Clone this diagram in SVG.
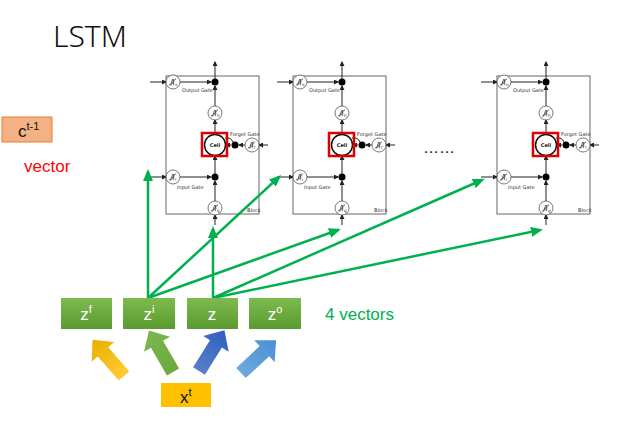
<svg xmlns="http://www.w3.org/2000/svg" width="632" height="429" viewBox="0 0 632 429">
<style>
.ln{stroke:#222;stroke-width:1;fill:none}
.gc{fill:#fff;stroke:#555;stroke-width:0.8}
.lb{font-family:"DejaVu Sans",sans-serif;font-size:5px;fill:#333}
.sub{font-family:"DejaVu Sans",sans-serif;font-size:4px;fill:#333}
.gr{stroke:#00B050;stroke-width:2.5;fill:none;marker-end:url(#ga)}
.bx{fill:url(#gg)}
.bt{font-family:"Liberation Sans",sans-serif;font-size:17px;fill:#fff;text-anchor:middle}
</style>
<defs>
<marker id="ba" markerWidth="5" markerHeight="5" refX="4" refY="2.5" orient="auto" markerUnits="userSpaceOnUse"><path d="M0,0L5,2.5L0,5z" fill="#222"/></marker>
<marker id="ga" markerWidth="12" markerHeight="10" refX="9" refY="5" orient="auto" markerUnits="userSpaceOnUse"><path d="M0,0L12,5L0,10z" fill="#00B050"/></marker>
<linearGradient id="gg" x1="0" y1="0" x2="0" y2="1"><stop offset="0" stop-color="#7DBB4F"/><stop offset="1" stop-color="#5B9A30"/></linearGradient>
<linearGradient id="gy" x1="0" y1="0" x2="1" y2="0"><stop offset="0" stop-color="#FFCC33"/><stop offset="1" stop-color="#E8B000"/></linearGradient>
<linearGradient id="gn" x1="0" y1="0" x2="1" y2="0"><stop offset="0" stop-color="#6AAA3F"/><stop offset="1" stop-color="#7BB84E"/></linearGradient>
<linearGradient id="gb" x1="0" y1="0" x2="1" y2="0"><stop offset="0" stop-color="#5A7FC8"/><stop offset="1" stop-color="#2F5FC0"/></linearGradient>
<linearGradient id="gl" x1="0" y1="0" x2="1" y2="0"><stop offset="0" stop-color="#6FA8DC"/><stop offset="1" stop-color="#4A8FD6"/></linearGradient>
<path id="sg" d="M-4,3 C-1,3 -1,-3 0,-3 M0,-3 C1,-3 1,3 0,3 M-3,3 C0,3 0,-3 3,-3" fill="none" stroke="#333" stroke-width="0.8"/>
<polygon id="fa" points="0,-7 32,-7 32,-15 48,0 32,15 32,7 0,7"/>
<g id="blk">
<rect x="166" y="76" width="93" height="138" fill="#fff" stroke="#666" stroke-width="1"/>
<path class="ln" d="M215,225V215" marker-end="url(#ba)"/>
<path class="ln" d="M215,201V181" marker-end="url(#ba)"/>
<path class="ln" d="M215,177V156" marker-end="url(#ba)"/>
<path class="ln" d="M215,134V120" marker-end="url(#ba)"/>
<path class="ln" d="M215,106V86" marker-end="url(#ba)"/>
<path class="ln" d="M215,82V62" marker-end="url(#ba)"/>
<path class="ln" d="M150,177H166" marker-end="url(#ba)"/>
<path class="ln" d="M180,177H211" marker-end="url(#ba)"/>
<path class="ln" d="M150,82H166" marker-end="url(#ba)"/>
<path class="ln" d="M180,82H211" marker-end="url(#ba)"/>
<path class="ln" d="M268,145H259" marker-end="url(#ba)"/>
<path class="ln" d="M245,145H239" marker-end="url(#ba)"/>
<path class="ln" d="M231,145H226" marker-end="url(#ba)"/>
<path class="ln" d="M233,142Q231,137 225,138"/>
<circle cx="215" cy="82" r="3.5" fill="#000"/>
<circle cx="215" cy="177" r="3.5" fill="#000"/>
<circle cx="235" cy="145" r="3.5" fill="#000"/>
<circle cx="173" cy="82" r="7" class="gc"/><use href="#sg" x="173" y="82"/><text class="sub" x="175" y="86">o</text>
<circle cx="173" cy="177" r="7" class="gc"/><use href="#sg" x="173" y="177"/><text class="sub" x="175" y="181">i</text>
<circle cx="215" cy="113" r="7" class="gc"/><use href="#sg" x="215" y="113"/><text class="sub" x="217" y="117">h</text>
<circle cx="215" cy="208" r="7" class="gc"/><use href="#sg" x="215" y="208"/><text class="sub" x="217" y="212">g</text>
<circle cx="252" cy="145" r="7" class="gc"/><use href="#sg" x="252" y="145"/><text class="sub" x="254" y="149">f</text>
<circle cx="215" cy="145" r="10.5" fill="#fff" stroke="#111" stroke-width="1.5"/>
<text x="215" y="147" font-family="DejaVu Sans,sans-serif" font-size="5" font-weight="bold" text-anchor="middle" fill="#222">Cell</text>
<rect x="202" y="133" width="25" height="23" fill="none" stroke="#E00000" stroke-width="2.5"/>
<text class="lb" x="182" y="92">Output Gate</text>
<text class="lb" x="230" y="136">Forget Gate</text>
<text class="lb" x="177" y="189">Input Gate</text>
<text class="lb" x="247" y="212">Block</text>
</g>
</defs>
<text x="53" y="47" font-family="Noto Sans,sans-serif" font-size="30" font-weight="300" fill="#111">LSTM</text>
<g id="ct"><rect x="2" y="117" width="50" height="25" fill="#F4B183" stroke="#ED7D31" stroke-width="1"/>
<text x="18" y="137" font-family="Liberation Sans,sans-serif" font-size="17" fill="#111">c<tspan font-size="11" dy="-7">t-1</tspan></text></g>
<text x="24" y="172" font-family="Liberation Sans,sans-serif" font-size="17" fill="#F00">vector</text>
<g id="block1"><use href="#blk"/></g>
<g id="block2"><use href="#blk" transform="translate(127,0)"/></g>
<g id="block3"><use href="#blk" transform="translate(331,0)"/></g>
<text x="423" y="153" font-family="Liberation Sans,sans-serif" font-size="16" fill="#111">……</text>
<g id="connectors">
<path class="gr" d="M148,298V172"/>
<path class="gr" d="M148,298L279,177"/>
<path class="gr" d="M148,298L338,230"/>
<path class="gr" d="M213,298V229"/>
<path class="gr" d="M213,298L482,180"/>
<path class="gr" d="M213,298L540,230"/>
</g>
<g id="zf"><rect class="bx" x="61" y="298" width="51" height="31"/><text class="bt" x="86" y="320">z<tspan font-size="11" dy="-7">f</tspan></text></g>
<g id="zi"><rect class="bx" x="123" y="298" width="52" height="31"/><text class="bt" x="149" y="320">z<tspan font-size="11" dy="-7">i</tspan></text></g>
<g id="z"><rect class="bx" x="187" y="298" width="51" height="31"/><text class="bt" x="212" y="320">z</text></g>
<g id="zo"><rect class="bx" x="249" y="298" width="52" height="31"/><text class="bt" x="275" y="320">z<tspan font-size="11" dy="-7">o</tspan></text></g>
<text x="325" y="320" font-family="Liberation Sans,sans-serif" font-size="17" fill="#00B050">4 vectors</text>
<use href="#fa" fill="url(#gy)" transform="translate(124,376) rotate(-131)"/>
<use href="#fa" fill="url(#gn)" transform="translate(173,372) rotate(-120)"/>
<use href="#fa" fill="url(#gb)" transform="translate(199,371) rotate(-58)"/>
<use href="#fa" fill="url(#gl)" transform="translate(241,373) rotate(-43)"/>
<g id="xt"><rect x="161" y="383" width="50" height="24" fill="#FFC000"/><text x="180" y="403" font-family="Liberation Sans,sans-serif" font-size="17" fill="#111">x<tspan font-size="11" dy="-7">t</tspan></text></g>
</svg>
